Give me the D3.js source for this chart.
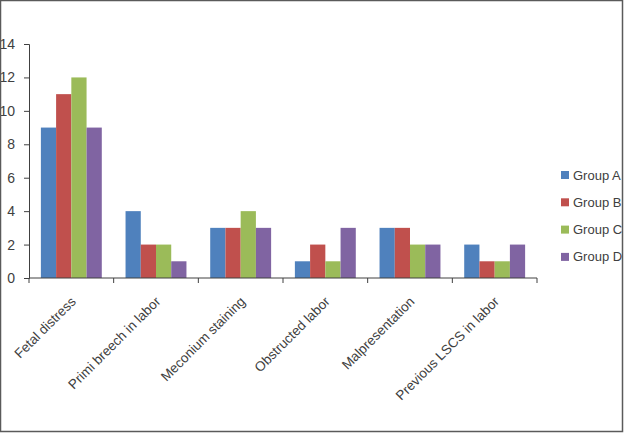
<html>
<head>
  <meta http-equiv='Content-Type' content='text/html;charset=utf-8'>
  <title>Indications by group</title>
  <script src="https://cdn.jsdelivr.net/npm/d3@7"></script>
  <style type='text/css'>
    body { margin: 0; background: #fff; font-family: 'Liberation Sans', Arial, sans-serif; }
    svg { display: block; }
    svg text { fill: #404040; font-size: 14px; }
    svg text.cat { font-size: 13.5px; }
    svg text.leg { font-size: 13px; }
    .axis path, .axis line { stroke: #404040; }
  </style>
</head>
<body>
<div id="main"></div>
<script type='text/javascript'>

var categories = ['Fetal distress', 'Primi breech in labor', 'Meconium staining',
                  'Obstructed labor', 'Malpresentation', 'Previous LSCS in labor'];
var groups = ['Group A', 'Group B', 'Group C', 'Group D'];
var groupA = [9, 4, 3, 1, 3, 2],
    groupB = [11, 2, 3, 2, 3, 1],
    groupC = [12, 2, 4, 1, 2, 1],
    groupD = [9, 1, 3, 3, 2, 2];
var yTicks = [0, 2, 4, 6, 8, 10, 12, 14];
var colors = ['#4f81bd', '#c0504d', '#9bbb59', '#8064a2'];

var series = [groupA, groupB, groupC, groupD];

var W = 624, H = 433,
    plot = { left: 29, right: 537, top: 44, bottom: 278 };

var svg = d3.select('#main').append('svg')
    .attr('width', W)
    .attr('height', H);

var x0 = d3.scaleBand()
    .domain(categories)
    .range([plot.left, plot.right]);

var x1 = d3.scaleBand()
    .domain(groups)
    .range([0, x0.bandwidth()])
    .paddingOuter(0.78);

var y = d3.scaleLinear()
    .domain([0, 14])
    .range([plot.bottom, plot.top]);

// bars
categories.forEach(function (c, ci) {
  var g = svg.append('g')
      .attr('transform', 'translate(' + x0(c) + ',0)');
  groups.forEach(function (gr, gi) {
    var v = series[gi][ci];
    g.append('rect')
        .attr('x', x1(gr))
        .attr('y', y(v))
        .attr('width', x1.bandwidth())
        .attr('height', y(0) - y(v))
        .attr('fill', colors[gi]);
  });
});

// y axis
var yAxis = svg.append('g')
    .attr('class', 'axis')
    .attr('transform', 'translate(' + plot.left + ',0)')
    .call(d3.axisLeft(y).tickValues(yTicks).tickSize(5).tickPadding(9));
yAxis.selectAll('text').style('font-size', '14px').attr('fill', '#404040');

// x axis, ticks between categories
var xAxis = svg.append('g')
    .attr('class', 'axis')
    .attr('transform', 'translate(0,' + plot.bottom + ')');
xAxis.append('line')
    .attr('x1', plot.left).attr('x2', plot.right)
    .attr('stroke', '#404040');
var bounds = categories.map(function (c) { return x0(c); }).concat([plot.right]);
xAxis.selectAll('line.tick')
    .data(bounds)
  .enter().append('line')
    .attr('class', 'tick')
    .attr('x1', function (d) { return d; })
    .attr('x2', function (d) { return d; })
    .attr('y1', 0).attr('y2', 5)
    .attr('stroke', '#404040');

xAxis.selectAll('text.cat')
    .data(categories)
  .enter().append('text')
    .attr('class', 'cat')
    .attr('text-anchor', 'end')
    .attr('dy', '.35em')
    .attr('transform', function (d) {
      return 'translate(' + (x0(d) + x0.bandwidth() / 2 + 2) + ',21) rotate(-45)';
    })
    .text(function (d) { return d; });

// legend (text runs under the frame on the right, as in the original)
svg.append('clipPath').attr('id', 'legclip')
  .append('rect').attr('x', 0).attr('y', 0).attr('width', 622).attr('height', H);

var legend = svg.append('g').attr('clip-path', 'url(#legclip)');
var leg = legend.selectAll('g')
    .data(groups)
  .enter().append('g')
    .attr('transform', function (d, i) { return 'translate(561,' + (175 + i * 27.3) + ')'; });
leg.append('rect')
    .attr('x', 0).attr('y', -4)
    .attr('width', 8).attr('height', 8)
    .attr('fill', function (d, i) { return colors[i]; });
leg.append('text')
    .attr('class', 'leg')
    .attr('x', 12)
    .attr('dy', '.35em')
    .text(function (d) { return d; });

// frame
svg.append('rect')
    .attr('x', 0.5).attr('y', 0.5)
    .attr('width', 622).attr('height', 431)
    .attr('fill', 'none')
    .attr('stroke', '#5a5a5a')
    .attr('stroke-width', 1.5);

</script>
</body>
</html>
